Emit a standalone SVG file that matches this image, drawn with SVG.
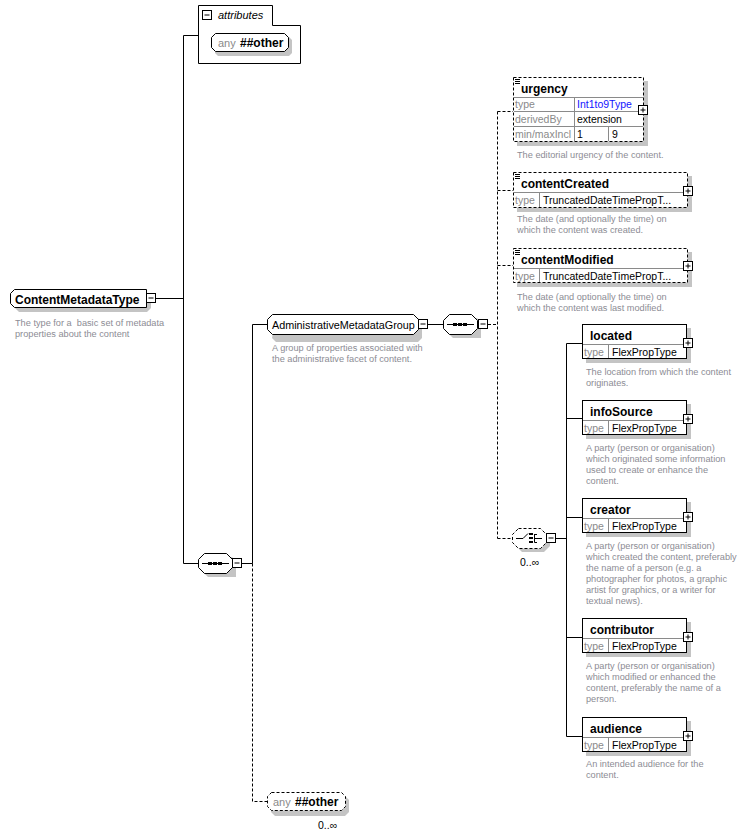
<svg xmlns="http://www.w3.org/2000/svg" width="750" height="838" viewBox="0 0 750 838">
<defs>
<style>
text{font-family:"Liberation Sans",Arial,sans-serif;}
.name{font-size:12px;font-weight:bold;fill:#000;}
.nname{font-size:12px;font-weight:bold;fill:#000;}
.grp{font-size:10.8px;fill:#000;}
.lbl{font-size:10.5px;fill:#8a8a8a;}
.val{font-size:10.5px;fill:#000;}
.blue{font-size:10.5px;fill:#1414ff;}
.desc{font-size:9.2px;fill:#8c8c94;}
.occ{font-size:10.5px;fill:#000;}
.box{fill:#fff;stroke:#000;stroke-width:1;}
.dbox{fill:#fff;stroke:#000;stroke-width:1;stroke-dasharray:3 2;}
.shadow{fill:#c4c4c4;stroke:none;}
.row{stroke:#8a8a8a;stroke-width:1;fill:none;}
.ln{stroke:#000;stroke-width:1;fill:none;}
.dln{stroke:#000;stroke-width:1;fill:none;stroke-dasharray:3 2;}
.ic{fill:#fff;stroke:#000;stroke-width:1;}
</style>
</defs>
<rect width="750" height="838" fill="#fff"/>

<g id="connectors">
<path class="ln" d="M183.5,35.5 V563.5 M183.5,35.5 H198 M156,298.5 H183.5 M183.5,563.5 H198"/>
<path class="ln" d="M242,563.5 H252.5 V324.5 H268"/>
<path class="dln" d="M252.5,563.5 V801.5 H267"/>
<path class="ln" d="M428,324.5 H443"/>
<path class="dln" d="M488,324.5 H497.5 M497.5,111.5 V538.5 M497.5,111.5 H513 M497.5,190.5 H513 M497.5,265.5 H513 M497.5,538.5 H512"/>
<path class="ln" d="M556,538.5 H566.5 M566.5,343.5 V736.5 M566.5,343.5 H582 M566.5,418.5 H582 M566.5,517.5 H582 M566.5,637.5 H582 M566.5,736.5 H582"/>
</g>

<g id="attributes">
<path class="box" d="M198.5,5.5 H272.5 V25.5 H300.5 V63.5 H198.5 Z"/>
<rect class="ic" x="202.5" y="10.5" width="9" height="9"/>
<path class="ln" d="M204.5,15 H209.5"/>
<text x="218" y="19" style="font-size:11px;font-style:italic">attributes</text>
</g>

<g id="attr-any">
<path class="shadow" d="M218,37 H289 L292,40 V53 L289,56 H218 L215,53 V40 Z"/>
<path class="box" d="M215.5,33.5 H284.5 L288.5,37.5 V47.5 L284.5,51.5 H215.5 L211.5,47.5 V37.5 Z"/>
<text x="218" y="47" class="lbl" style="font-size:11px">any</text>
<text x="240" y="47" class="name">##other</text>
</g>

<g id="ContentMetadataType">
<path class="shadow" d="M19,294 H151 V308 L147,312 H19 L15,308 V298 Z"/>
<path class="box" d="M14.5,289.5 H146.5 V307.5 H14.5 L10.5,303.5 V293.5 Z"/>
<rect class="ic" x="146.5" y="293.5" width="9" height="9"/>
<path class="ln" d="M148.5,298 H153.5"/>
<text x="15" y="303.5" class="nname">ContentMetadataType</text>
<text x="15" y="326" class="desc" xml:space="preserve">The type for a  basic set of metadata</text>
<text x="15" y="337" class="desc">properties about the content</text>
</g>

<g id="seq1">
<path class="shadow" d="M209,557 H232 L236,561 V577 H208 L202,571 Z"/>
<path class="box" d="M204.5,553.5 H226.5 L232.5,559.5 V567.5 L226.5,573.5 H204.5 L198.5,567.5 V559.5 Z"/>
<path class="ln" d="M202,563.5 H229"/>
<rect x="208" y="562" width="4" height="3" fill="#000"/>
<rect x="213" y="562" width="4" height="3" fill="#000"/>
<rect x="218" y="562" width="4" height="3" fill="#000"/>
<rect class="ic" x="232.5" y="558.5" width="9" height="9"/>
<path class="ln" d="M234.5,563 H239.5"/>
</g>

<g id="AdministrativeMetadataGroup">
<path class="shadow" d="M276,318 H418 L422,322 V338 L418,342 H276 L272,338 Z"/>
<path class="box" d="M272.5,314.5 H413.5 L418.5,319.5 V329.5 L413.5,334.5 H272.5 L267.5,329.5 V319.5 Z"/>
<rect class="ic" x="418.5" y="319.5" width="9" height="9"/>
<path class="ln" d="M420.5,324 H425.5"/>
<text x="272" y="328.5" class="grp">AdministrativeMetadataGroup</text>
<text x="272" y="351" class="desc">A group of properties associated with</text>
<text x="272" y="362" class="desc">the administrative facet of content.</text>
</g>

<g id="seq2">
<path class="shadow" d="M453,318 H477 L481,322 V338 H453 L447,332 Z"/>
<path class="box" d="M449.5,314.5 H471.5 L477.5,320.5 V328.5 L471.5,334.5 H449.5 L443.5,328.5 V320.5 Z"/>
<path class="ln" d="M447,324.5 H474"/>
<rect x="453" y="323" width="4" height="3" fill="#000"/>
<rect x="458" y="323" width="4" height="3" fill="#000"/>
<rect x="463" y="323" width="4" height="3" fill="#000"/>
<rect class="ic" x="478.5" y="319.5" width="9" height="9"/>
<path class="ln" d="M480.5,324 H485.5"/>
</g>

<g id="urgency">
<rect class="shadow" x="517" y="81" width="131" height="65"/>
<rect class="dbox" x="513.5" y="77.5" width="130" height="64"/>
<path class="ln" d="M515,79.5 H520 M515,81.5 H520 M515,83.5 H520"/>
<path class="row" d="M514,97.5 H643 M514,111.5 H643 M514,126.5 H643 M574.5,98 V141 M608.5,127 V141"/>
<text x="521" y="92.5" class="name">urgency</text>
<text x="515" y="108" class="lbl">type</text>
<text x="577" y="108" class="blue">Int1to9Type</text>
<text x="515" y="123" class="lbl">derivedBy</text>
<text x="577" y="123" class="val">extension</text>
<text x="515" y="138" class="lbl">min/maxIncl</text>
<text x="577" y="138" class="val">1</text>
<text x="612" y="138" class="val">9</text>
<rect class="ic" x="638.5" y="105.5" width="9" height="9"/>
<path class="ln" d="M640.5,110 H645.5 M643,107.5 V112.5"/>
<text x="517" y="158" class="desc">The editorial urgency of the content.</text>
</g>

<g id="contentCreated">
<rect class="shadow" x="517" y="176" width="175" height="36"/>
<rect class="dbox" x="513.5" y="172.5" width="174" height="35"/>
<path class="ln" d="M515,174.5 H520 M515,176.5 H520 M515,178.5 H520"/>
<path class="row" d="M514,192.5 H687 M539.5,193 V207"/>
<text x="521" y="188" class="name">contentCreated</text>
<text x="515" y="204" class="lbl">type</text>
<text x="543" y="204" class="val">TruncatedDateTimePropT...</text>
<rect class="ic" x="683.5" y="186.5" width="9" height="9"/>
<path class="ln" d="M685.5,191 H690.5 M688,188.5 V193.5"/>
<text x="517" y="222" class="desc">The date (and optionally the time) on</text>
<text x="517" y="233" class="desc">which the content was created.</text>
</g>

<g id="contentModified">
<rect class="shadow" x="517" y="252" width="175" height="35"/>
<rect class="dbox" x="513.5" y="248.5" width="174" height="34"/>
<path class="ln" d="M515,250.5 H520 M515,252.5 H520 M515,254.5 H520"/>
<path class="row" d="M514,268.5 H687 M539.5,269 V282"/>
<text x="521" y="264" class="name">contentModified</text>
<text x="515" y="279.5" class="lbl">type</text>
<text x="543" y="279.5" class="val">TruncatedDateTimePropT...</text>
<rect class="ic" x="683.5" y="261.5" width="9" height="9"/>
<path class="ln" d="M685.5,266 H690.5 M688,263.5 V268.5"/>
<text x="517" y="300" class="desc">The date (and optionally the time) on</text>
<text x="517" y="311" class="desc">which the content was last modified.</text>
</g>

<g id="choice">
<path class="shadow" d="M522,532 H544 L550,538 V546 L544,552 H522 L516,546 Z"/>
<path class="dbox" d="M518.5,528.5 H540.5 L546.5,534.5 V542.5 L540.5,548.5 H518.5 L512.5,542.5 V534.5 Z"/>
<path class="ln" d="M516,538.5 H523 L528,533.5 M534.5,534 V542.5 M534.5,534.5 H537 M534.5,542.5 H537 M534.5,538.5 H542"/>
<rect x="529" y="533" width="4" height="2" fill="#000"/>
<rect x="529" y="537" width="4" height="2" fill="#000"/>
<rect x="529" y="541" width="4" height="2" fill="#000"/>
<rect class="ic" x="546.5" y="533.5" width="9" height="9"/>
<path class="ln" d="M548.5,538 H553.5"/>
<text x="520" y="566" class="occ">0..∞</text>
</g>

<g id="located">
<rect class="shadow" x="586" y="328" width="105" height="35"/>
<rect class="box" x="582.5" y="324.5" width="104" height="34"/>
<path class="row" d="M583,344.5 H686 M608.5,345 V358"/>
<text x="590" y="339.5" class="name">located</text>
<text x="584" y="356" class="lbl">type</text>
<text x="612" y="356" class="val">FlexPropType</text>
<rect class="ic" x="683.5" y="338.5" width="9" height="9"/>
<path class="ln" d="M685.5,343 H690.5 M688,340.5 V345.5"/>
<text x="586" y="375" class="desc">The location from which the content</text>
<text x="586" y="386" class="desc">originates.</text>
</g>

<g id="infoSource">
<rect class="shadow" x="586" y="404" width="105" height="35"/>
<rect class="box" x="582.5" y="400.5" width="104" height="34"/>
<path class="row" d="M583,420.5 H686 M608.5,421 V434"/>
<text x="590" y="415.5" class="name">infoSource</text>
<text x="584" y="432" class="lbl">type</text>
<text x="612" y="432" class="val">FlexPropType</text>
<rect class="ic" x="683.5" y="414.5" width="9" height="9"/>
<path class="ln" d="M685.5,419 H690.5 M688,416.5 V421.5"/>
<text x="586" y="451" class="desc">A party (person or organisation)</text>
<text x="586" y="462" class="desc">which originated some information</text>
<text x="586" y="473" class="desc">used to create or enhance the</text>
<text x="586" y="484" class="desc">content.</text>
</g>

<g id="creator">
<rect class="shadow" x="586" y="502" width="105" height="35"/>
<rect class="box" x="582.5" y="498.5" width="104" height="34"/>
<path class="row" d="M583,518.5 H686 M608.5,519 V532"/>
<text x="590" y="513.5" class="name">creator</text>
<text x="584" y="530" class="lbl">type</text>
<text x="612" y="530" class="val">FlexPropType</text>
<rect class="ic" x="683.5" y="512.5" width="9" height="9"/>
<path class="ln" d="M685.5,517 H690.5 M688,514.5 V519.5"/>
<text x="586" y="549" class="desc">A party (person or organisation)</text>
<text x="586" y="560" class="desc">which created the content, preferably</text>
<text x="586" y="571" class="desc">the name of a person (e.g. a</text>
<text x="586" y="582" class="desc">photographer for photos, a graphic</text>
<text x="586" y="593" class="desc">artist for graphics, or a writer for</text>
<text x="586" y="604" class="desc">textual news).</text>
</g>

<g id="contributor">
<rect class="shadow" x="586" y="622" width="105" height="35"/>
<rect class="box" x="582.5" y="618.5" width="104" height="34"/>
<path class="row" d="M583,638.5 H686 M608.5,639 V652"/>
<text x="590" y="633.5" class="name">contributor</text>
<text x="584" y="650" class="lbl">type</text>
<text x="612" y="650" class="val">FlexPropType</text>
<rect class="ic" x="683.5" y="632.5" width="9" height="9"/>
<path class="ln" d="M685.5,637 H690.5 M688,634.5 V639.5"/>
<text x="586" y="669" class="desc">A party (person or organisation)</text>
<text x="586" y="680" class="desc">which modified or enhanced the</text>
<text x="586" y="691" class="desc">content, preferably the name of a</text>
<text x="586" y="702" class="desc">person.</text>
</g>

<g id="audience">
<rect class="shadow" x="586" y="721" width="105" height="35"/>
<rect class="box" x="582.5" y="717.5" width="104" height="34"/>
<path class="row" d="M583,737.5 H686 M608.5,738 V751"/>
<text x="590" y="732.5" class="name">audience</text>
<text x="584" y="749" class="lbl">type</text>
<text x="612" y="749" class="val">FlexPropType</text>
<rect class="ic" x="683.5" y="731.5" width="9" height="9"/>
<path class="ln" d="M685.5,736 H690.5 M688,733.5 V738.5"/>
<text x="586" y="767" class="desc">An intended audience for the</text>
<text x="586" y="778" class="desc">content.</text>
</g>

<g id="any-other">
<path class="shadow" d="M275,796 H345 L349,800 V812 L345,816 H275 L271,812 V800 Z"/>
<path class="dbox" d="M271.5,792.5 H341.5 L345.5,796.5 V806.5 L341.5,810.5 H271.5 L267.5,806.5 V796.5 Z"/>
<text x="273" y="806" class="lbl" style="font-size:11px">any</text>
<text x="295" y="806" class="name">##other</text>
<text x="318" y="829" class="occ">0..∞</text>
</g>
</svg>
